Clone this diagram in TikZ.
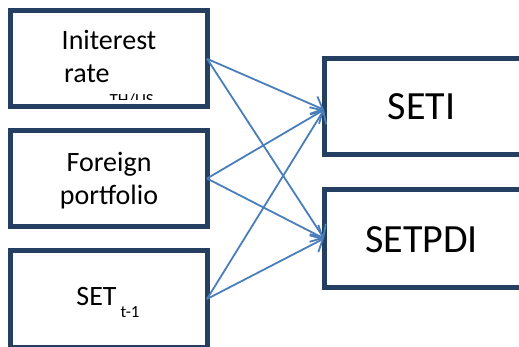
\documentclass[tikz,border=0pt]{standalone}
\usepackage{fontspec}
\setmainfont{Carlito}
\usetikzlibrary{arrows.meta}
\definecolor{boxc}{HTML}{243F60}
\definecolor{arrc}{HTML}{4A7EBB}
\begin{document}
\begin{tikzpicture}[x=1pt,y=-1pt,
 box/.style={draw=boxc, line width=5pt, rectangle, inner sep=0pt, outer sep=0pt, fill=white},
 conn/.style={draw=arrc, line width=1.8pt, -{Straight Barb[length=10pt,width=19pt,line width=1.8pt]}},
 lbl/.style={font=\fontsize{28}{33}\selectfont, align=center, inner sep=0pt, anchor=base},
 big/.style={font=\fontsize{40}{48}\selectfont, inner sep=0pt, anchor=base}]
\useasboundingbox (0,0) rectangle (519,347);
\clip (0,0) rectangle (519,347);
\node[box, minimum width=196.5pt, minimum height=96.5pt] (b1) at (108.75,58.75) {};
\node[box, minimum width=196.5pt, minimum height=96pt] (b2) at (108.75,178.5) {};
\node[box, minimum width=196.5pt, minimum height=97pt] (b3) at (108.75,299) {};
\node[box, minimum width=216pt, minimum height=95.5pt] (seti) at (432,106.75) {};
\node[box, minimum width=216pt, minimum height=97pt] (setpdi) at (432,238.5) {};
\begin{scope}
\clip (12,13) rectangle (205,100);
\node[lbl] (t1) at (109,83) {Initerest\\rate\raisebox{-23pt}{\fontsize{17}{20}\selectfont TH/US}};
\end{scope}
\node[lbl] (t2) at (109,205) {Foreign\\portfolio};
\node[lbl] (t3) at (108,305) {SET\hspace{4pt}\raisebox{-13pt}{\fontsize{17}{20}\selectfont t-1}};
\node[big] (t4) at (421.5,120) {SETI};
\node[big] (t5) at (421.5,253) {SETPDI};
\coordinate (seti-in) at ([yshift=-3pt]seti.west);
\coordinate (setpdi-in) at ([yshift=0pt]setpdi.west);
\draw[conn] (b1.east) -- (seti-in);
\draw[conn] (b1.east) -- (setpdi-in);
\draw[conn] (b2.east) -- (seti-in);
\draw[conn] (b2.east) -- (setpdi-in);
\draw[conn] (b3.east) -- (seti-in);
\draw[conn] (b3.east) -- (setpdi-in);
\end{tikzpicture}
\end{document}
